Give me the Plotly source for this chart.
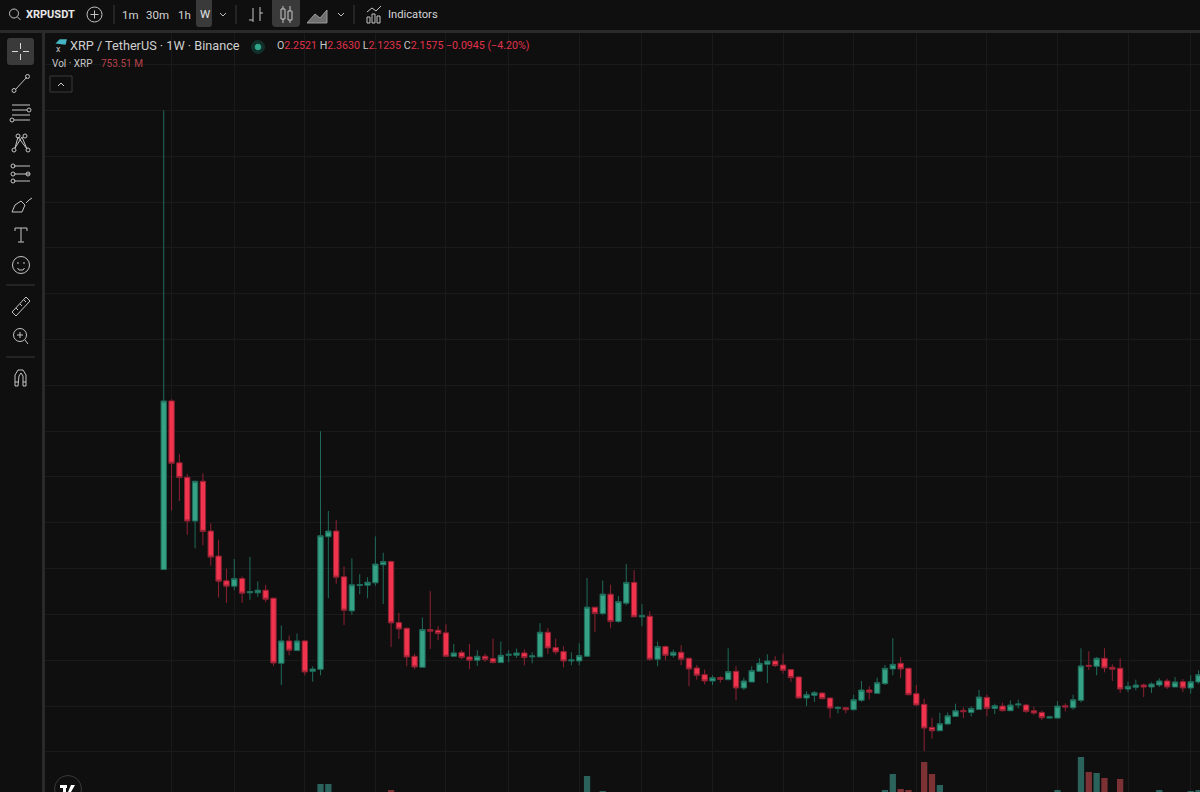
import pandas as pd
import plotly.graph_objects as go

# weekly XRP/USDT candles
opens = [.498,.866,.731,.6994,.6039,.6907,.5820,.5274,.4734,.4617,.4785,.4472,.4472,.4530,.4355,.2934,.3422,.3211,.3422,.2759,
         .2802,.5696,.5820,.4822,.4078,.4632,.4639,.4690,.5084,.5157,.3823,.3699,.3087,.2847,.3671,.3656,.3598,.3087,.3168,.3073,
         .3000,.3087,.3037,.2949,.3109,.3109,.3160,.3073,.3073,.3612,.3277,.3190,.2985,.2985,.3087,.4159,.4021,.4443,.3846,.4247,
         .4699,.3948,.3962,.3022,.3299,.3109,.3175,.3044,.2832,.2686,.2548,.2621,.2577,.2759,.2395,.2526,.2759,.2912,.2985,.2898,
         .2796,.2635,.2176,.2234,.2285,.2176,.1950,.1965,.1921,.2125,.2351,.2278,.2490,.2810,.2934,.2825,.2271,.2038,.1535,.1462,
         .1607,.1775,.1906,.1862,.1928,.2190,.1950,.2001,.1899,.2023,.2023,.1899,.1862,.1738,.1738,.2008,.1964,.2125,.2890,.2868,
         .3043,.2846,.2825,.2373,.2409,.2460,.2416,.2460,.2548,.2416,.2533,.2395,.2526]
highs = [1.50,.870,.750,.7067,.692,.708,.5988,.5631,.4996,.5208,.4829,.5259,.4720,.4647,.4370,.3757,.3539,.3582,.3436,.2868,
         .7996,.6258,.6061,.5048,.5222,.4880,.4814,.5704,.5347,.5172,.4034,.3713,.3146,.3933,.4509,.3744,.3787,.3357,.3219,.3357,
         .3219,.3146,.3474,.3408,.3219,.3255,.3233,.3175,.3809,.3700,.3474,.3306,.3175,.3372,.4793,.4159,.4742,.4648,.4400,.5100,
         .4968,.4225,.4072,.3408,.3321,.3233,.3328,.3058,.2898,.2796,.2672,.2650,.3262,.2869,.2621,.2869,.3044,.3131,.3087,.3146,
         .2810,.2650,.2322,.2329,.2300,.2191,.1994,.1979,.2249,.2548,.2431,.2621,.2898,.3481,.3073,.2840,.2460,.2162,.1746,.1855,
         .1862,.2052,.1972,.1994,.2351,.2249,.2052,.2074,.2125,.2139,.2052,.1986,.1899,.1789,.2110,.2059,.2249,.3262,.3196,.3072,
         .3262,.2912,.3043,.2533,.2577,.2489,.2518,.2606,.2599,.2635,.2591,.2672,.2781]
lows = [.498,.6265,.6477,.5740,.5441,.5507,.5062,.4370,.4253,.4530,.4253,.4319,.4384,.4268,.2875,.2460,.3108,.3211,.2671,.2533,
        .2671,.4355,.4668,.3772,.3991,.4442,.4355,.4625,.4231,.3291,.3466,.2868,.2803,.2847,.3248,.3437,.3073,.3087,.3022,.2810,
        .2876,.2964,.2934,.2949,.2956,.3051,.2891,.2934,.3073,.3138,.3124,.2847,.2891,.2891,.3073,.3612,.3984,.3700,.3816,.4196,
        .3948,.3744,.2985,.2869,.3000,.3058,.2891,.2431,.2577,.2475,.2460,.2511,.2562,.2125,.2351,.2526,.2759,.2504,.2854,.2708,
        .2526,.2176,.2001,.2089,.2147,.1739,.1841,.1841,.1906,.2089,.2147,.2264,.2460,.2672,.2614,.2234,.2008,.1017,.1287,.1462,
        .1607,.1775,.1738,.1775,.1928,.1775,.1826,.1884,.1899,.1950,.1848,.1811,.1695,.1724,.1738,.1884,.1921,.2081,.2788,.2672,
        .2737,.2548,.2285,.2307,.2343,.2198,.2285,.2416,.2373,.2416,.2307,.2271,.2489]
closes = [.866,.730,.6987,.6039,.6907,.5813,.5252,.4727,.4617,.4785,.4464,.4501,.4530,.4333,.2941,.3422,.3218,.3422,.2744,.2810,
          .5718,.5820,.4814,.4093,.4647,.4654,.4705,.5099,.5157,.3816,.3684,.3072,.2854,.3671,.3634,.3583,.3087,.3160,.3058,.3000,
          .3087,.3015,.2949,.3109,.3131,.3160,.3058,.3095,.3612,.3270,.3182,.2985,.3007,.3102,.4159,.4021,.4443,.3846,.4283,.4699,
          .3948,.3970,.3022,.3299,.3109,.3175,.3022,.2810,.2672,.2548,.2621,.2584,.2752,.2395,.2548,.2774,.2934,.2985,.2883,.2781,
          .2621,.2176,.2249,.2293,.2162,.1957,.1972,.1921,.2140,.2351,.2300,.2511,.2825,.2912,.2810,.2249,.2023,.1520,.1462,.1615,
          .1789,.1899,.1877,.1950,.2198,.1950,.2008,.1899,.2023,.2045,.1884,.1848,.1746,.1768,.2001,.1979,.2139,.2876,.2868,.3043,
          .2832,.2803,.2373,.2431,.2460,.2416,.2482,.2548,.2416,.2526,.2395,.2533,.2686]
weeks = pd.date_range("2018-04-30", periods=len(opens), freq="7D")

# only the tallest volume bars reach into the picture (millions of XRP)
vol_weeks = [20, 21, 29, 54, 56, 92, 93, 94, 95, 97, 98, 99, 114, 117, 118, 119, 120, 122, 127, 131, 132]
vol_values = [920, 920, 800, 1080, 780, 800, 1120, 820, 800, 1360, 1120, 900, 800, 1460, 1160, 1140, 1040, 1020, 800, 780, 800]

month_grid = ["2018-05-07", "2018-07-02", "2018-09-03", "2018-11-05", "2019-01-07", "2019-03-04", "2019-05-06", "2019-07-01",
              "2019-09-02", "2019-11-04", "2020-01-06", "2020-03-02", "2020-05-04", "2020-07-06", "2020-09-07", "2020-11-02"]
price_grid = [.1, .2, .3, .4, .5, .6, .7, .8, .9, 1.0, 1.1, 1.2, 1.3, 1.4, 1.5, 1.6]

BG = "#0f0f0f"
GRID = "#1a1a1a"
BAND = "#2a2a2a"
UP, DOWN = "#35a185", "#f0344d"
UP_WICK, DOWN_WICK = "#1f6b5a", "#8f2133"
ICON = "#c4c4c4"
TXT = "#d4d4d4"
RED = "#e0324a"


def px(x):
    return x / 1200


def py(y):
    return 1 - y / 792


def line(x0, y0, x1, y1, color=ICON, width=1):
    return dict(type="line", xref="paper", yref="paper", x0=px(x0), y0=py(y0), x1=px(x1), y1=py(y1),
                line=dict(color=color, width=width), layer="above")


def rect(x0, y0, x1, y1, fill, color=None):
    return dict(type="rect", xref="paper", yref="paper", x0=px(x0), y0=py(y0), x1=px(x1), y1=py(y1),
                fillcolor=fill, line=dict(color=color or fill, width=1 if color else 0), layer="above")


def round_rect(x0, y0, x1, y1, r, fill):
    pts = f"M {px(x0 + r):.5f},{py(y0):.5f} L {px(x1 - r):.5f},{py(y0):.5f} Q {px(x1):.5f},{py(y0):.5f} {px(x1):.5f},{py(y0 + r):.5f} "
    pts += f"L {px(x1):.5f},{py(y1 - r):.5f} Q {px(x1):.5f},{py(y1):.5f} {px(x1 - r):.5f},{py(y1):.5f} "
    pts += f"L {px(x0 + r):.5f},{py(y1):.5f} Q {px(x0):.5f},{py(y1):.5f} {px(x0):.5f},{py(y1 - r):.5f} "
    pts += f"L {px(x0):.5f},{py(y0 + r):.5f} Q {px(x0):.5f},{py(y0):.5f} {px(x0 + r):.5f},{py(y0):.5f} Z"
    return dict(type="path", xref="paper", yref="paper", path=pts, fillcolor=fill, line=dict(width=0), layer="above")


def circle(cx, cy, r, color=ICON, fill="rgba(0,0,0,0)", width=1):
    return dict(type="circle", xref="paper", yref="paper", x0=px(cx - r), y0=py(cy - r), x1=px(cx + r), y1=py(cy + r),
                fillcolor=fill, line=dict(color=color, width=width), layer="above")


def poly(points, color=ICON, width=1, fill=None):
    d = "M " + " L ".join(f"{px(x):.5f},{py(y):.5f}" for x, y in points)
    if fill:
        d += " Z"
    return dict(type="path", xref="paper", yref="paper", path=d, fillcolor=fill or "rgba(0,0,0,0)",
                line=dict(color=color, width=width), layer="above")


def label(x, y, s, size=11, color=TXT, anchor="left", family="Roboto"):
    return dict(xref="paper", yref="paper", x=px(x), y=py(y), text=s, showarrow=False, xanchor=anchor, yanchor="middle",
                font=dict(size=size, color=color, family=family), borderpad=0, borderwidth=0)


fig = go.Figure()
fig.add_trace(go.Bar(
    x=weeks[vol_weeks], y=vol_values, yaxis="y2", name="Vol",
    marker=dict(color=["#2b625c" if closes[i] >= opens[i] else "#7c3235" for i in vol_weeks], line_width=0),
))
fig.add_trace(go.Candlestick(
    x=weeks, open=opens, high=highs, low=lows, close=closes, name="XRPUSDT",
    increasing=dict(line=dict(color=UP_WICK, width=1), fillcolor=UP),
    decreasing=dict(line=dict(color=DOWN_WICK, width=1), fillcolor=DOWN),
))

shapes = [
    rect(0, 0, 1200, 30, BG), rect(0, 30, 1200, 33, BAND), rect(0, 33, 42, 792, BG), rect(42, 30, 45, 792, BAND),
    # top bar
    circle(14, 13.5, 4.5), line(17.5, 17, 20.5, 20),
    circle(94.5, 14.5, 7.5), line(94.5, 10.5, 94.5, 18.5), line(90.5, 14.5, 98.5, 14.5),
    line(114, 5, 114, 24, "#3a3a3a"), line(236, 5, 236, 24, "#3a3a3a"), line(354, 5, 354, 24, "#3a3a3a"),
    round_rect(196, -4, 212, 27, 3, "#3a3a3a"), round_rect(272, -4, 300, 27, 4, "#3a3a3a"),
    poly([(220, 13), (223, 16), (226, 13)]), poly([(338, 13), (341, 16), (344, 13)]),
    # bars, candles, area icons
    line(253, 8, 253, 22), poly([(249, 20), (253, 20)]), line(260, 7, 260, 21), poly([(260, 13), (263, 13)]),
    line(283, 6, 283, 23), rect(281, 9, 285, 19, "#3a3a3a", ICON), line(290, 6, 290, 23), rect(288, 11, 292, 20, "#3a3a3a", ICON),
    poly([(307, 23), (315, 14), (320, 18), (327, 10), (327, 23)], "#9a9a9a", 1, "#6f6f6f"),
    # indicators icon
    poly([(367, 12), (372, 8), (376, 11), (381, 6)]), rect(367, 17, 370, 23, BG, ICON), rect(372, 14, 375, 23, BG, ICON),
    rect(377, 16, 380, 23, BG, ICON),
    # legend
    circle(258, 47, 6.5, "#12302a", "#12302a"), circle(258, 47, 2.8, "#2fa58a", "#2fa58a"),
    poly([(57, 43), (60, 40), (66, 40), (65, 44)], "#45b5c4", 1.5, "#45b5c4"),
    rect(50, 76, 72, 92, BG, "#3a3a3a"), poly([(58, 86), (61, 83), (64, 86)], "#d0d0d0"),
    # left tool strip
    round_rect(7, 38, 34, 65, 3, "#3a3a3a"), line(20.5, 43, 20.5, 49, "#d8d8d8"), line(20.5, 54, 20.5, 60, "#d8d8d8"),
    line(12, 51.5, 18, 51.5, "#d8d8d8"), line(23, 51.5, 29, 51.5, "#d8d8d8"),
    line(15, 90, 27, 77), circle(14, 90.5, 2), circle(27.5, 76.5, 2),
    line(12, 105, 30, 105), line(12, 110, 27, 110), line(12, 115, 30, 115), line(14, 120, 30, 120), circle(29, 110, 2), circle(12, 120, 2),
    poly([(15, 148), (18, 137), (27, 149), (22, 137), (15, 148)]), circle(18, 136, 2), circle(25, 136, 2), circle(14, 150, 2), circle(28, 150, 2),
    line(14, 166, 30, 166), line(14, 174, 30, 174), line(14, 181, 30, 181), circle(13, 166, 2), circle(13, 174, 2), circle(13, 181, 2), circle(28, 174, 2),
    poly([(12, 212), (15, 205), (21, 201), (25, 205), (22, 212), (12, 212)]), poly([(26, 203), (29, 200), (32, 198)]),
    line(21, 228, 21, 242), line(15, 228, 27, 228), poly([(15, 231), (15, 228)]), poly([(27, 231), (27, 228)]), line(18, 242, 24, 242),
    circle(21, 265, 8.5), circle(18, 263, 0.4), circle(24, 263, 0.4), poly([(17.5, 268), (19, 270), (23, 270), (24.5, 268)]),
    line(6, 285, 35, 285, "#3a3a3a"), line(6, 357, 35, 357, "#3a3a3a"),
    poly([(12, 312), (26, 297), (30, 301), (16, 316), (12, 312)]), line(16, 308, 18, 310), line(20, 304, 22, 306), line(24, 300, 26, 302),
    circle(20, 335, 6.5), line(25, 340, 28, 344), line(17, 335, 23, 335), line(20, 332, 20, 338),
    poly([(15, 386), (15, 375), (18, 370), (23, 370), (26, 375), (26, 386), (23, 386), (23, 376), (21, 373), (19, 376), (18, 386), (15, 386)]),
    line(15, 382, 18, 382), line(23, 382, 26, 382),
    # TV badge
    circle(68, 789, 13.5, "#3a3a3a", BG),
    rect(60, 785, 67, 788, "#ffffff"), rect(63, 788, 66, 792, "#ffffff"), poly([(71, 785), (75, 785), (71, 792), (68, 792)], "#ffffff", 0, "#ffffff"),
]

annotations = [
    label(26, 14.5, "<b>XRPUSDT</b>", 11, "#e8e8e8"),
    label(130.5, 15, "1m", 11.5, TXT, "center"), label(158, 15, "30m", 11.5, TXT, "center"), label(184, 15, "1h", 11.5, TXT, "center"),
    label(204.5, 14, "W", 11.5, "#e0e0e0", "center"),
    label(388, 14.5, "Indicators", 11.2, TXT),
    label(69.5, 45.5, "XRP / TetherUS · 1W · Binance", 12.7, "#d0d0d0"),
    label(56, 49, "x", 9, "#c0c0c0"),
    label(277, 45.5, "<span style='color:#c8c8c8'>O</span>2.2521 <span style='color:#c8c8c8'>H</span>2.3630 "
                     "<span style='color:#c8c8c8'>L</span>2.1235 <span style='color:#c8c8c8'>C</span>2.1575 −0.0945 (−4.20%)", 10.65, RED),
    label(52, 64, "Vol · XRP", 10, "#c8c8c8"),
    label(100.5, 64, "753.51 M", 10, "#b8434a"),
]

fig.update_layout(
    width=1200, height=792, margin=dict(l=0, r=0, t=0, b=0),
    paper_bgcolor=BG, plot_bgcolor=BG, showlegend=False, boxgap=0.02, bargap=0.2,
    xaxis=dict(domain=[45 / 1200, 1], type="date", range=["2018-01-14", "2020-11-10 07:00"], rangeslider=dict(visible=False),
               tickmode="array", tickvals=month_grid, showticklabels=False, showgrid=True, gridcolor=GRID, gridwidth=1, zeroline=False, ticks=""),
    yaxis=dict(domain=[0, 1 - 33 / 792], range=[0.0125, 1.669], tickmode="array", tickvals=price_grid, showticklabels=False,
               showgrid=True, gridcolor=GRID, gridwidth=1, zeroline=False, ticks=""),
    yaxis2=dict(domain=[0, 1 - 33 / 792], overlaying="y", range=[760, 15920], visible=False),
    shapes=shapes, annotations=annotations,
)

fig.write_html("out.html", config=dict(displayModeBar=False), post_script="document.body.style.margin='0';document.body.style.background='#0f0f0f';")
